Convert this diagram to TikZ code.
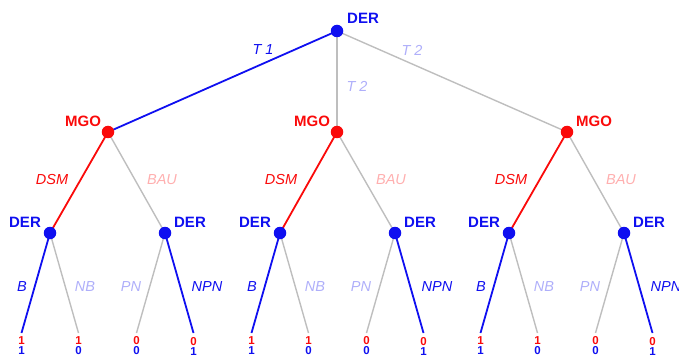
\documentclass[tikz,border=0pt]{standalone}
\usepackage{fontspec}
\setmainfont{Liberation Sans}
\definecolor{cblue}{RGB}{15,15,240}
\definecolor{cred}{RGB}{250,10,10}
\definecolor{cgray}{RGB}{190,190,190}
\definecolor{lblue}{RGB}{175,175,250}
\definecolor{lred}{RGB}{255,175,175}
\tikzset{
  eblue/.style={draw=cblue,line width=1.8pt},
  ered/.style={draw=cred,line width=1.8pt},
  egray/.style={draw=cgray,line width=1.4pt},
  dotb/.style={circle,fill=cblue,inner sep=0pt,minimum size=12.5pt},
  dotr/.style={circle,fill=cred,inner sep=0pt,minimum size=12.5pt},
  nlab/.style={font=\fontsize{15}{17}\selectfont\bfseries,inner sep=0pt},
  elab/.style={font=\fontsize{14.5}{16}\selectfont\itshape,inner sep=0pt},
  pay/.style={font=\fontsize{11.5}{10}\selectfont\bfseries,align=center,inner sep=0pt},
}
\begin{document}
\begin{tikzpicture}[x=1pt,y=-1pt]
\useasboundingbox (0,0) rectangle (679,358);
% root
\coordinate (r) at (337,31);
\foreach \i/\mx/\a/\b in {1/108/50/165, 2/337/280/395, 3/567/509/624}{
  \coordinate (m\i) at (\mx,132);
  \coordinate (d\i a) at (\a,233);
  \coordinate (d\i b) at (\b,233);
  \coordinate (l\i a1) at ({\a-28.5},333);
  \coordinate (l\i a2) at ({\a+28.5},333);
  \coordinate (l\i b1) at ({\b-28.5},333);
  \coordinate (l\i b2) at ({\b+28.5},333);
}
% edges
\draw[eblue] (r) -- (m1);
\draw[egray] (r) -- (m2);
\draw[egray] (r) -- (m3);
\foreach \i in {1,2,3}{
  \draw[ered] (m\i) -- (d\i a);
  \draw[egray] (m\i) -- (d\i b);
  \draw[eblue] (d\i a) -- (l\i a1);
  \draw[egray] (d\i a) -- (l\i a2);
  \draw[egray] (d\i b) -- (l\i b1);
  \draw[eblue] (d\i b) -- (l\i b2);
}
% dots
\node[dotb] (R) at (r) {};
\node[nlab,text=cblue] (Rl) at (363,18) {DER};
\foreach \i/\mx/\a/\b/\mo in {1/108/50/165/-25, 2/337/280/395/-25, 3/567/509/624/27}{
  \node[dotr] (M\i) at (m\i) {};
  \node[nlab,text=cred] (M\i l) at ({\mx+\mo},121) {MGO};
  \node[dotb] (D\i a) at (d\i a) {};
  \node[dotb] (D\i b) at (d\i b) {};
  \node[nlab,text=cblue] (D\i al) at ({\a-25},222) {DER};
  \node[nlab,text=cblue] (D\i bl) at ({\b+25},222) {DER};
  % edge labels
  \node[elab,text=cred] (E\i dsm) at ({\mx-56},180) {DSM};
  \node[elab,text=lred] (E\i bau) at ({\mx+54},180) {BAU};
  \node[elab,text=cblue] (E\i b) at ({\a-28},287) {B};
  \node[elab,text=lblue] (E\i nb) at ({\a+35},287) {NB};
  \node[elab,text=lblue] (E\i pn) at ({\b-34},287) {PN};
  \node[elab,text=cblue] (E\i npn) at ({\b+42},287) {NPN};
  % payoffs
  \node[pay] (P\i a1) at ({\a-28.5},346) {\textcolor{cred}{1}\\\textcolor{cblue}{1}};
  \node[pay] (P\i a2) at ({\a+28.5},346) {\textcolor{cred}{1}\\\textcolor{cblue}{0}};
  \node[pay] (P\i b1) at ({\b-28.5},346) {\textcolor{cred}{0}\\\textcolor{cblue}{0}};
  \node[pay] (P\i b2) at ({\b+28.5},346) {\textcolor{cred}{0}\\\textcolor{cblue}{1}};
}
\node[elab,text=cblue] (T1) at (263,50) {T 1};
\node[elab,text=lblue] (T2a) at (357,86) {T 2};
\node[elab,text=lblue] (T2b) at (412,50) {T 2};
\end{tikzpicture}
\end{document}
